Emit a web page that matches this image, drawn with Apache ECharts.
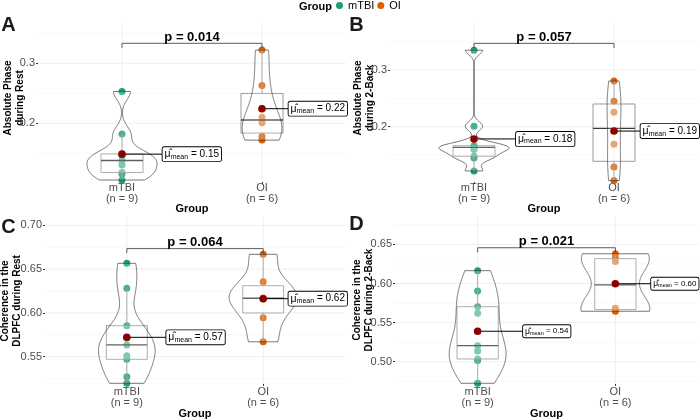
<!DOCTYPE html>
<html><head><meta charset="utf-8">
<script src="https://cdn.jsdelivr.net/npm/echarts@6/dist/echarts.min.js"></script>
<style>html,body{margin:0;padding:0;background:#fff}#c{width:700px;height:420px}</style>
</head><body><div id="c"></div>
<script>
// ---------------- data ----------------
const categories = ['mTBI', 'OI'];
const A_mTBI = [0.1055, 0.1155, 0.118, 0.1305, 0.138, 0.146, 0.149, 0.182, 0.253];
const A_OI   = [0.172, 0.178, 0.201, 0.210, 0.263, 0.322];
const B_mTBI = [0.122, 0.145, 0.148, 0.160, 0.1636, 0.165, 0.1665, 0.201, 0.335];
const B_OI   = [0.105, 0.129, 0.169, 0.2254, 0.245, 0.2806];
const C_mTBI = [0.5196, 0.527, 0.547, 0.551, 0.5634, 0.571, 0.5854, 0.628, 0.6566];
const C_OI   = [0.567, 0.5945, 0.6161, 0.6173, 0.6356, 0.6669];
const D_mTBI = [0.4724, 0.5015, 0.5035, 0.5137, 0.5205, 0.5619, 0.5703, 0.5904, 0.6164];
const D_OI   = [0.5645, 0.566, 0.5685, 0.628, 0.633, 0.638];
const pValues = ['0.014', '0.057', '0.064', '0.021'];
const yTitles = ['Absolute Phase\nduring Rest', 'Absolute Phase\nduring 2-Back',
                 'Coherence in the\nDLPFC during Rest', 'Coherence in the\nDLPFC during 2-Back'];
const panelLetters = ['A', 'B', 'C', 'D'];
const xTitle = 'Group';
const legendTitle = 'Group';
const yTicksAB = [0.2, 0.3];
const yMinorAB = [0.15, 0.25, 0.35];
const yTicksC = [0.55, 0.60, 0.65, 0.70];
const yMinorC = [0.525, 0.575, 0.625, 0.675];
const yTicksD = [0.50, 0.55, 0.60, 0.65];
const yMinorD = [0.475, 0.525, 0.575, 0.625, 0.675];

// ---------------- layout / style ----------------
const FONT = '"Liberation Sans", Arial, sans-serif';
const COLORS = ['#1B9E77', '#D95F02'];
const MEAN_COLOR = '#8B0000';
const layout = [
  {grid:{left:38,top:22,width:308,height:160}, yMin:0.1022, yMax:0.3688, bracket:0.3333, labelOff:[0.29,0.19], lf:10, sf:7, xMargin:0, nameGapX:21, letter:[8.5,25.5], title:[14,98], dec:1},
  {grid:{left:390,top:22,width:308,height:160}, yMin:0.1025, yMax:0.3847, bracket:0.347, labelOff:[0.30,0.19], lf:10, sf:7, xMargin:0, nameGapX:21, letter:[356.5,25.5], title:[364,98], dec:1},
  {grid:{left:45,top:217,width:300,height:167}, yMin:0.5188, yMax:0.7095, bracket:0.6734, labelOff:[0.29,0.186], lf:10, sf:7, xMargin:2.5, nameGapX:24, letter:[8.5,227.5], title:[11,301], dec:2},
  {grid:{left:395,top:217,width:303,height:167}, yMin:0.4715, yMax:0.685, bracket:0.6457, labelOff:[0.33,0.26], lf:8, sf:5.5, xMargin:2.5, nameGapX:24, letter:[356.5,224.5], title:[363.5,300], dec:2}
];
const panels = [
  {groups:[A_mTBI, A_OI], ticks:yTicksAB, minor:yMinorAB},
  {groups:[B_mTBI, B_OI], ticks:yTicksAB, minor:yMinorAB},
  {groups:[C_mTBI, C_OI], ticks:yTicksC, minor:yMinorC},
  {groups:[D_mTBI, D_OI], ticks:yTicksD, minor:yMinorD}
];

// ---------------- stats helpers ----------------
const sortNum = a => a.slice().sort((x,y)=>x-y);
function q7(s,p){const h=(s.length-1)*p, lo=Math.floor(h), hi=Math.min(lo+1,s.length-1); return s[lo]+(h-lo)*(s[hi]-s[lo]);}
const mean = a => a.reduce((s,v)=>s+v,0)/a.length;
function sd(a){const m=mean(a); return Math.sqrt(a.reduce((s,v)=>s+(v-m)*(v-m),0)/(a.length-1));}
function bwNrd0(a){const s=sortNum(a); const iqr=q7(s,.75)-q7(s,.25); let lo=Math.min(sd(a), iqr/1.34); if(!(lo>0)) lo=sd(a)||Math.abs(s[0])||1; return 0.9*lo*Math.pow(a.length,-0.2);}
function kde(a,bw,t){let s=0; for(const v of a){const z=(t-v)/bw; s+=Math.exp(-0.5*z*z);} return s/(a.length*bw*Math.sqrt(2*Math.PI));}
function boxStats(a){const s=sortNum(a); const q1=q7(s,.25), med=q7(s,.5), q3=q7(s,.75), iqr=q3-q1;
  const lo=s.filter(v=>v>=q1-1.5*iqr)[0]; const hs=s.filter(v=>v<=q3+1.5*iqr); return {q1,med,q3,lo,hi:hs[hs.length-1]};}
function violinProfile(a){const s=sortNum(a), bw=bwNrd0(a), N=150, pts=[];
  for(let i=0;i<=N;i++){const t=s[0]+(s[s.length-1]-s[0])*i/N; pts.push([t,kde(a,bw,t)]);} return pts;}

const grids=[], xAxes=[], yAxes=[], series=[], graphics=[];

panels.forEach((P, i) => {
  const L = layout[i];
  grids.push(Object.assign({containLabel:false}, L.grid));
  xAxes.push({gridIndex:i, type:'value', min:0.4, max:2.6,
    axisLine:{show:false}, splitLine:{show:false},
    axisTick:{show:true, customValues:[1,2], length:2, lineStyle:{color:'#333'}},
    axisLabel:{customValues:[1,2], margin:L.xMargin, fontSize:11, lineHeight:11, color:'#4d4d4d', fontFamily:FONT,
      formatter: v => { const g=Math.round(v)-1; return categories[g] + '\n(n = ' + P.groups[g].length + ')'; }},
    name:xTitle, nameLocation:'middle', nameGap:L.nameGapX, nameMoveOverlap:false,
    nameTextStyle:{fontWeight:'bold', fontSize:11, color:'#000', fontFamily:FONT, verticalAlign:'top'}});
  yAxes.push({gridIndex:i, type:'value', min:L.yMin, max:L.yMax,
    axisLine:{show:false}, splitLine:{show:false},
    axisTick:{show:true, customValues:P.ticks, length:2, lineStyle:{color:'#333'}},
    axisLabel:{customValues:P.ticks, margin:3, fontSize:11, color:'#4d4d4d', fontFamily:FONT,
      formatter: v => v.toFixed(L.dec)}});

  // grid lines
  const gdata = [...P.ticks.map(v=>[0,v]), ...P.minor.map(v=>[1,v]), [2,1], [2,2]];
  series.push({type:'custom', xAxisIndex:i, yAxisIndex:i, z:0, silent:true, clip:false, data:gdata,
    renderItem(params, api){
      const cs=params.coordSys, k=api.value(0), v=api.value(1);
      if(k<2){const y=api.coord([1,v])[1];
        return {type:'line', shape:{x1:cs.x,y1:y,x2:cs.x+cs.width,y2:y}, style:{stroke:k?'#f3f3f3':'#ebebeb', lineWidth:k?0.6:0.8}};}
      const x=api.coord([v,L.yMin])[0];
      return {type:'line', shape:{x1:x,y1:cs.y,x2:x,y2:cs.y+cs.height}, style:{stroke:'#ebebeb', lineWidth:0.8}};
    }});

  // points
  P.groups.forEach((arr,g)=>{
    series.push({type:'scatter', name:categories[g], xAxisIndex:i, yAxisIndex:i, z:2, symbolSize:7,
      itemStyle:{color:COLORS[g], opacity:1}, data:arr.map(v=>[g+1,v]), silent:true, clip:true});
  });

  // boxplots
  const stats = P.groups.map(boxStats);
  series.push({type:'custom', xAxisIndex:i, yAxisIndex:i, z:3, silent:true, clip:true, data:[[0],[1]],
    renderItem(params, api){
      const g=api.value(0), st=stats[g], cx=g+1, c=(x,y)=>api.coord([x,y]);
      const tl=c(cx-0.15, st.q3), br=c(cx+0.15, st.q1), m1=c(cx-0.15, st.med), m2=c(cx+0.15, st.med);
      const wt=c(cx, st.hi), wb=c(cx, st.lo);
      const gs={stroke:'#8f8f8f', lineWidth:0.9};
      return {type:'group', children:[
        {type:'line', shape:{x1:wt[0],y1:tl[1],x2:wt[0],y2:wt[1]}, style:gs},
        {type:'line', shape:{x1:wb[0],y1:br[1],x2:wb[0],y2:wb[1]}, style:gs},
        {type:'rect', shape:{x:tl[0],y:tl[1],width:br[0]-tl[0],height:br[1]-tl[1]}, style:{fill:'rgba(255,255,255,0.3)', stroke:'#8f8f8f', lineWidth:0.9}},
        {type:'line', shape:{x1:m1[0],y1:m1[1],x2:m2[0],y2:m2[1]}, style:{stroke:'#3a3a3a', lineWidth:1.3}}
      ]};
    }});

  // violins (scale = area, width 0.5)
  const profiles = P.groups.map(violinProfile);
  const dmax = Math.max(...profiles.map(pr=>Math.max(...pr.map(d=>d[1]))));
  series.push({type:'custom', xAxisIndex:i, yAxisIndex:i, z:4, silent:true, clip:true, data:[[0],[1]],
    renderItem(params, api){
      const g=api.value(0), pr=profiles[g], cx=g+1, pts=[];
      pr.forEach(d=>pts.push(api.coord([cx + d[1]/dmax*0.25, d[0]])));
      for(let k=pr.length-1;k>=0;k--){const d=pr[k]; pts.push(api.coord([cx - d[1]/dmax*0.25, d[0]]));}
      return {type:'polygon', shape:{points:pts}, style:{fill:'rgba(255,255,255,0.2)', stroke:'#3d3d3d', lineWidth:0.7}};
    }});

  // means with labels
  const means = P.groups.map(mean);
  series.push({type:'custom', xAxisIndex:i, yAxisIndex:i, z:5, silent:true, clip:false, data:[[0],[1]],
    renderItem(params, api){
      const g=api.value(0), cx=g+1, m=means[g];
      const p0=api.coord([cx,m]), p1=api.coord([cx+L.labelOff[g], m]);
      return {type:'group', children:[
        {type:'line', shape:{x1:p0[0],y1:p0[1],x2:p1[0],y2:p1[1]}, style:{stroke:'#000', lineWidth:1}},
        {type:'circle', shape:{cx:p0[0],cy:p0[1],r:3.8}, style:{fill:MEAN_COLOR}},
        {type:'text', x:p1[0], y:p1[1], style:{
          text:'{m|\u03BC\u0302}{s|mean}{t| = ' + m.toFixed(2) + '}',
          align:'left', verticalAlign:'middle', backgroundColor:'#fff', borderColor:'#000', borderWidth:0.9,
          borderRadius:1.5, padding:[1,2,1,2],
          rich:{
            m:{fontSize:L.lf+0.5, fontFamily:FONT, fill:'#000', lineHeight:L.lf+2, verticalAlign:'middle'},
            s:{fontSize:L.sf, fontFamily:FONT, fill:'#000', lineHeight:L.lf+2, verticalAlign:'bottom'},
            t:{fontSize:L.lf, fontFamily:FONT, fill:'#000', lineHeight:L.lf+2, verticalAlign:'middle'}
          }}}
      ]};
    }});

  // significance bracket
  series.push({type:'custom', xAxisIndex:i, yAxisIndex:i, z:5, silent:true, clip:false, data:[[1.5, L.bracket]],
    renderItem(params, api){
      const y=api.value(1), a=api.coord([1,y]), b=api.coord([2,y]);
      return {type:'group', children:[
        {type:'polyline', shape:{points:[[a[0],a[1]+4.5],[a[0],a[1]],[b[0],b[1]],[b[0],b[1]+4.5]]}, style:{stroke:'#333', lineWidth:0.8, fill:null}},
        {type:'text', x:(a[0]+b[0])/2, y:a[1]+0.5, style:{text:'p = ' + pValues[i], font:'bold 13px ' + FONT, fill:'#000', align:'center', verticalAlign:'bottom'}}
      ]};
    }});

  graphics.push({type:'text', x:L.letter[0], y:L.letter[1], style:{text:panelLetters[i], font:'bold 20px ' + FONT, fill:'#1a1a1a', align:'center', verticalAlign:'middle'}});
  graphics.push({type:'text', x:L.title[0], y:L.title[1], rotation:Math.PI/2, style:{text:yTitles[i], font:'bold 10px ' + FONT, lineHeight:12, fill:'#000', align:'center', verticalAlign:'middle'}});
});

graphics.push({type:'text', x:299, y:6.5, style:{text:legendTitle, font:'bold 11px ' + FONT, fill:'#000', align:'left', verticalAlign:'middle'}});

const chart = echarts.init(document.getElementById('c'), null, {renderer:'canvas'});
chart.setOption({
  animation:false,
  backgroundColor:'#fff',
  textStyle:{fontFamily:FONT},
  legend:{data:categories, left:336, top:0, padding:0, icon:'circle', itemWidth:7, itemHeight:7, itemGap:3,
    selectedMode:false, itemStyle:{opacity:1}, textStyle:{fontSize:11, color:'#000', fontFamily:FONT}},
  grid:grids, xAxis:xAxes, yAxis:yAxes, series:series, graphic:graphics
});
</script></body></html>
